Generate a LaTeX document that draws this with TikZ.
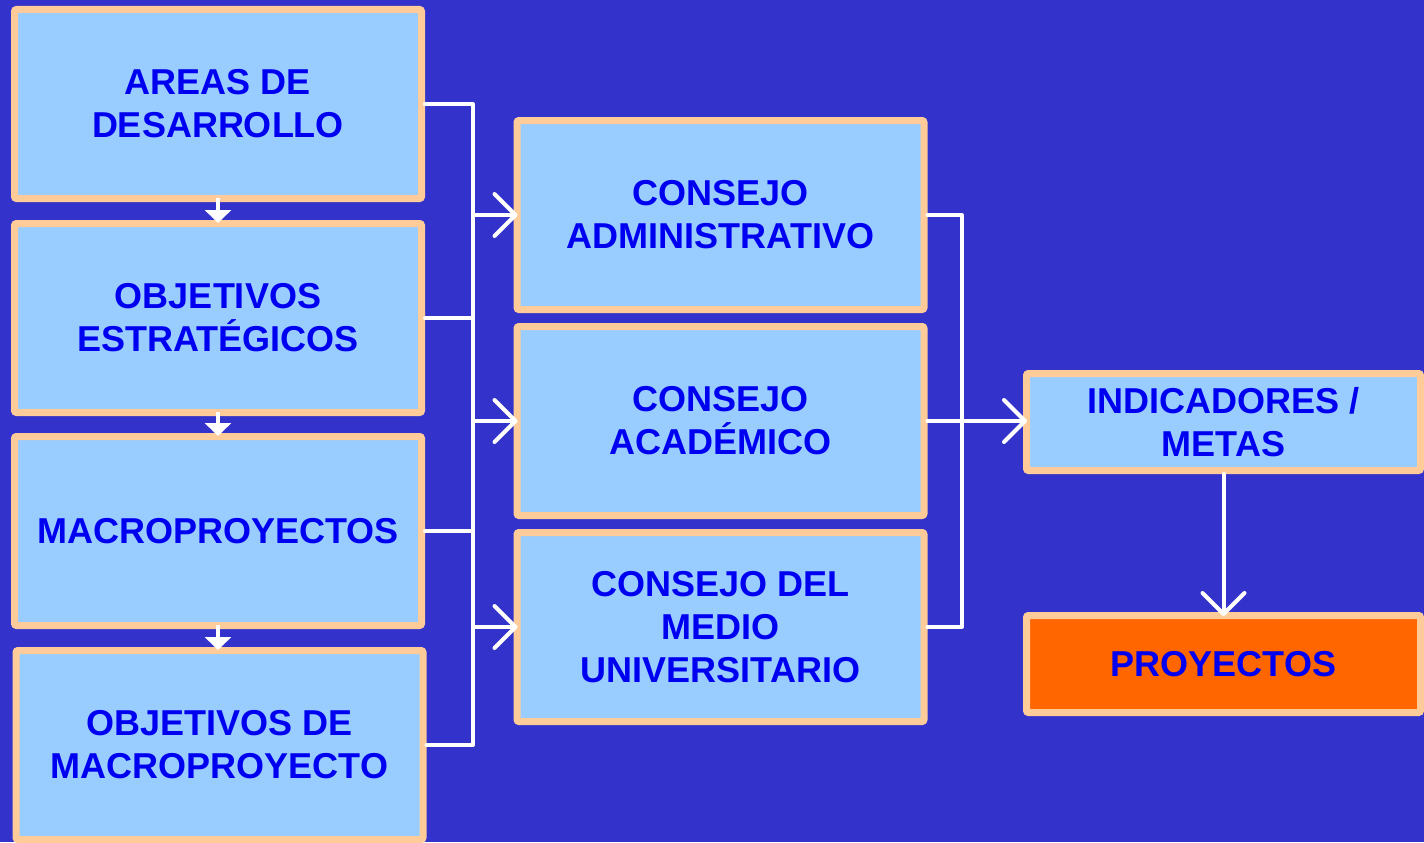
\documentclass[tikz,border=0pt]{standalone}
\usepackage{fontspec}
\setmainfont{Liberation Sans}
\usetikzlibrary{arrows.meta}
\definecolor{bgblue}{RGB}{51,51,204}
\definecolor{boxfill}{RGB}{153,204,255}
\definecolor{boxline}{RGB}{255,204,153}
\definecolor{txtblue}{RGB}{0,0,240}
\definecolor{orangefill}{RGB}{255,102,0}
\begin{document}
\begin{tikzpicture}[x=1pt,y=-1pt,
  box/.style={draw=boxline, fill=boxfill, line width=7pt, rounded corners=2pt,
    minimum width=407pt, minimum height=189pt, align=center, inner sep=0pt,
    text=txtblue, font=\fontsize{36}{43}\selectfont\bfseries},
  smallbox/.style={box, minimum width=394pt, minimum height=97pt},
  wire/.style={draw=white, line width=4pt, line cap=round, line join=round},
  chev/.style={wire, shorten >=-4pt, -{Straight Barb[length=21pt,width=42pt,round]}},
  tri/.style={draw=white, line width=4pt, shorten >=-3pt, shorten <=-4pt,
    -{Triangle[length=13pt,width=26pt]}}
]
\fill[bgblue] (0,0) rectangle (1424,842);
% left column
\node[box] (L1) at (218,104) {AREAS DE\\DESARROLLO};
\node[box] (L2) at (218,318) {OBJETIVOS\\ESTRATÉGICOS};
\node[box] (L3) at (218,531) {MACROPROYECTOS};
\node[box] (L4) at (219.5,745) {OBJETIVOS DE\\MACROPROYECTO};
% middle column
\node[box] (M1) at (720.5,215) {CONSEJO\\ADMINISTRATIVO};
\node[box] (M2) at (720.5,421) {CONSEJO\\ACADÉMICO};
\node[box] (M3) at (720.5,627) {CONSEJO DEL\\MEDIO\\UNIVERSITARIO};
% right column
\node[smallbox] (I) at (1223.5,422) {INDICADORES /\\METAS};
\node[smallbox, fill=orangefill] (P) at (1223.5,664) {PROYECTOS};
% small arrows left column
\draw[tri] (L1.south) -- (L2.north);
\draw[tri] (L2.south) -- (L3.north);
\draw[tri] (L3.south) -- (L4.north -| L3.south);
% left bracket
\coordinate (bx) at (473,0);
\draw[wire] (L1.east) -- (L1.east -| bx) -- (L4.east -| bx) -- (L4.east);
\draw[wire] (L2.east) -- (L2.east -| bx);
\draw[wire] (L3.east) -- (L3.east -| bx);
\draw[chev] (M1.west -| bx) -- (M1.west);
\draw[chev] (M2.west -| bx) -- (M2.west);
\draw[chev] (M3.west -| bx) -- (M3.west);
% right bracket
\coordinate (rx) at (962,0);
\draw[wire] (M1.east) -- (M1.east -| rx) -- (M3.east -| rx) -- (M3.east);
\draw[chev] (M2.east) -- (M2.east -| I.west);
\draw[chev] (I.south) -- (P.north);
\end{tikzpicture}
\end{document}
